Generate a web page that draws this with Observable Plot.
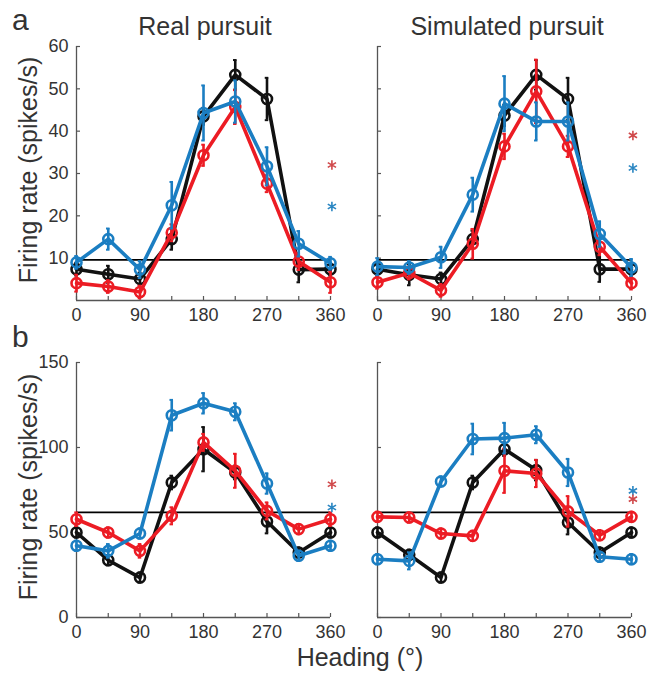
<!DOCTYPE html>
<html>
<head>
<meta charset="utf-8">
<script src="https://cdn.jsdelivr.net/npm/d3@7"></script>
<script src="https://cdn.jsdelivr.net/npm/@observablehq/plot@0.6"></script>
<style>
  body { margin: 0; background: #fff; }
  #wrap { position: relative; width: 653px; height: 675px; background: #fff; font-family: "Liberation Sans", Arial, sans-serif; color: #333; }
  .lbl { position: absolute; white-space: nowrap; line-height: 1; }
  .panel { position: absolute; }
</style>
</head>
<body>
<div id="wrap">
  <div class="lbl" style="left:12px;top:5px;font-size:30px;">a</div>
  <div class="lbl" style="left:12px;top:322px;font-size:30px;">b</div>
  <div class="lbl" style="left:205px;top:14px;font-size:25px;transform:translateX(-50%);">Real pursuit</div>
  <div class="lbl" style="left:507px;top:14px;font-size:25px;transform:translateX(-50%);">Simulated pursuit</div>
  <div class="lbl" style="left:28px;top:170px;font-size:25px;transform:translate(-50%,-50%) rotate(-90deg);">Firing rate (spikes/s)</div>
  <div class="lbl" style="left:28px;top:487px;font-size:25px;transform:translate(-50%,-50%) rotate(-90deg);">Firing rate (spikes/s)</div>
  <div class="lbl" style="left:360px;top:645px;font-size:25px;transform:translateX(-50%);">Heading (°)</div>
  <div id="tl" class="panel" style="left:0px;top:0px;"></div>
  <div id="tr" class="panel" style="left:301px;top:0px;"></div>
  <div id="bl" class="panel" style="left:0px;top:320px;"></div>
  <div id="br" class="panel" style="left:301px;top:320px;"></div>
</div>
<script>
// ---- data ----
const headings = [0, 45, 90, 135, 180, 225, 270, 315, 360];
const xTickLabels = [0, 90, 180, 270, 360];
const seriesNames = ["black", "red", "blue"];

// Panel a, Real pursuit
const aRealBlack    = [7.4, 6.2, 5.1, 14.5, 43.5, 53.3, 47.6, 7.3, 7.4];
const aRealBlackErr = [1.5, 2.0, 1.5, 2.5, 2.0, 3.5, 5.0, 3.0, 1.5];
const aRealRed      = [4.1, 3.3, 2.0, 16.0, 34.3, 45.7, 27.6, 9.2, 4.3];
const aRealRedErr   = [2.0, 1.5, 1.5, 2.0, 2.5, 4.0, 2.0, 2.0, 2.5];
const aRealBlue     = [9.0, 14.5, 7.3, 22.5, 44.3, 47.0, 31.7, 13.4, 8.8];
const aRealBlueErr  = [1.5, 2.5, 2.0, 5.5, 6.5, 5.0, 4.5, 3.0, 1.5];

// Panel a, Simulated pursuit
const aSimBlack    = [7.4, 6.1, 5.1, 14.5, 43.7, 53.3, 47.6, 7.4, 7.4];
const aSimBlackErr = [1.5, 2.5, 1.5, 2.0, 2.5, 3.5, 5.0, 3.0, 1.5];
const aSimRed      = [4.3, 6.5, 2.4, 13.4, 36.4, 49.4, 36.4, 12.7, 4.1];
const aSimRedErr   = [1.5, 1.5, 1.5, 3.5, 3.0, 7.5, 2.5, 2.0, 1.5];
const aSimBlue     = [8.0, 7.8, 10.2, 25.0, 46.5, 42.3, 42.3, 15.7, 7.8];
const aSimBlueErr  = [2.0, 1.5, 2.5, 4.0, 6.5, 4.5, 4.5, 3.0, 2.0];

// Panel b, Real pursuit
const bRealBlack    = [50, 33.7, 23.5, 79.4, 99, 85.3, 56.5, 38.2, 50];
const bRealBlackErr = [3, 3, 3, 4, 13, 4, 7, 3, 3];
const bRealRed      = [57.8, 50, 39.2, 59.8, 103, 86.3, 62.7, 52, 57.8];
const bRealRedErr   = [4, 3, 4, 5, 5, 10, 5, 3, 4];
const bRealBlue     = [42.2, 39.2, 49.4, 119, 126, 121, 78.8, 36.3, 42.2];
const bRealBlueErr  = [3, 4, 3, 9, 6, 5, 6, 3, 3];

// Panel b, Simulated pursuit
const bSimBlack    = [50, 36.9, 23.5, 79.4, 99, 86.7, 55.9, 38.2, 50];
const bSimBlackErr = [3, 3, 3, 4, 4, 6, 7, 3, 3];
const bSimRed      = [59.2, 58.8, 49.4, 48, 86.3, 84.7, 62.4, 48.4, 59.2];
const bSimRedErr   = [3, 3, 3, 3, 13, 8, 9, 3, 3];
const bSimBlue     = [34.3, 33.3, 80, 105, 105.5, 107.5, 85.3, 35.7, 34.3];
const bSimBlueErr  = [3, 5, 3, 9, 9, 5, 8, 3, 3];

// Baselines
const aBaseline = 9.6;
const bBaseline = 61.8;

// Significance stars [series, y]
const aRealStars = [["red", 32], ["blue", 22.2]];
const aSimStars  = [["red", 39], ["blue", 31.3]];
const bRealStars = [["red", 78.4], ["blue", 64.7]];
const bSimStars  = [["blue", 74.5], ["red", 69.6]];
const starHeading = 362;

const aYTicks = [10, 20, 30, 40, 50, 60];
const bYTicks = [0, 50, 100, 150];

// ---- styles ----
const colors = { black: "#111111", red: "#ec1c24", blue: "#1b7ec2" };
const starColors = { red: "#d0494b", blue: "#2a86c2" };
const axisColor = "#555";
const textColor = "#333";

function rows(vals, errs) {
  return headings.map((h, i) => ({ x: h, y: vals[i], e: errs[i] }));
}

function panel(el, { series, yMax, yTicks, labels, baseline, stars, marginTop, marginBottom }) {
  const W = 345, H = 335, mL = 76, mR = 15;
  const innerW = W - mL - mR, innerH = H - marginTop - marginBottom;
  const marks = [
    Plot.ruleY([0], { x1: 0, x2: 360, stroke: axisColor, strokeWidth: 1.3 }),
    Plot.ruleX([0], { y1: 0, y2: yMax, stroke: axisColor, strokeWidth: 1.3 }),
    Plot.tickX(headings, { x: d => d, stroke: axisColor, strokeWidth: 1.2, insetTop: innerH - 4 }),
    Plot.tickY(yTicks, { y: d => d, stroke: axisColor, strokeWidth: 1.2, insetRight: innerW - 4 }),
    Plot.axisX({ ticks: xTickLabels, tickSize: 0, tickPadding: 8, fontSize: 18, fill: textColor, label: null })
  ];
  if (labels) {
    marks.push(Plot.axisY({ ticks: yTicks, tickSize: 0, tickPadding: 8, fontSize: 18, fill: textColor, label: null }));
  }
  marks.push(Plot.ruleY([baseline], { x1: 0, x2: 360, stroke: "#000", strokeWidth: 1.8 }));
  seriesNames.forEach((name, k) => {
    const d = series[k];
    const c = colors[name];
    marks.push(
      Plot.ruleX(d, { x: "x", y1: r => r.y - r.e, y2: r => r.y + r.e, stroke: c, strokeWidth: 2.6 }),
      Plot.ruleY(d, { y: r => r.y + r.e, x1: r => r.x - 2.5, x2: r => r.x + 2.5, stroke: c, strokeWidth: 2 }),
      Plot.ruleY(d, { y: r => r.y - r.e, x1: r => r.x - 2.5, x2: r => r.x + 2.5, stroke: c, strokeWidth: 2 }),
      Plot.line(d, { x: "x", y: "y", stroke: c, strokeWidth: 3.6, strokeLinejoin: "round" }),
      Plot.dot(d, { x: "x", y: "y", r: 5, stroke: c, strokeWidth: 2.6, fill: "none" })
    );
  });
  marks.push(Plot.dot(stars, {
    x: () => starHeading, y: s => s[1], symbol: "asterisk", r: 4.5,
    stroke: s => starColors[s[0]], strokeWidth: 1.6
  }));
  const p = Plot.plot({
    width: W, height: H, marginLeft: mL, marginRight: mR, marginTop, marginBottom,
    x: { domain: [0, 360], label: null, axis: null },
    y: { domain: [0, yMax], label: null, axis: null },
    style: { fontFamily: "'Liberation Sans', Arial, sans-serif", background: "transparent", overflow: "visible", color: textColor },
    marks
  });
  document.getElementById(el).appendChild(p);
}

panel("tl", {
  series: [rows(aRealBlack, aRealBlackErr), rows(aRealRed, aRealRedErr), rows(aRealBlue, aRealBlueErr)],
  yMax: 60, yTicks: aYTicks, labels: true, baseline: aBaseline, stars: aRealStars,
  marginTop: 46, marginBottom: 35
});
panel("tr", {
  series: [rows(aSimBlack, aSimBlackErr), rows(aSimRed, aSimRedErr), rows(aSimBlue, aSimBlueErr)],
  yMax: 60, yTicks: aYTicks, labels: false, baseline: aBaseline, stars: aSimStars,
  marginTop: 46, marginBottom: 35
});
panel("bl", {
  series: [rows(bRealBlack, bRealBlackErr), rows(bRealRed, bRealRedErr), rows(bRealBlue, bRealBlueErr)],
  yMax: 150, yTicks: bYTicks, labels: true, baseline: bBaseline, stars: bRealStars,
  marginTop: 42, marginBottom: 38
});
panel("br", {
  series: [rows(bSimBlack, bSimBlackErr), rows(bSimRed, bSimRedErr), rows(bSimBlue, bSimBlueErr)],
  yMax: 150, yTicks: bYTicks, labels: false, baseline: bBaseline, stars: bSimStars,
  marginTop: 42, marginBottom: 38
});
</script>
</body>
</html>
